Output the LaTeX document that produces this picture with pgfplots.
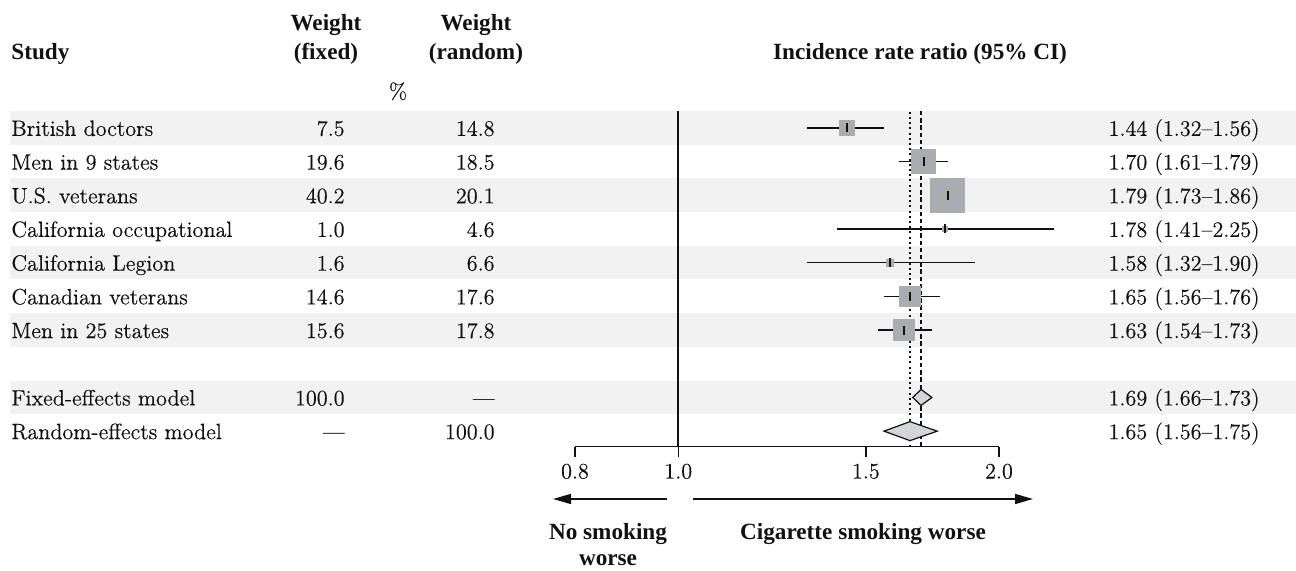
\documentclass[border=0pt]{standalone}
\usepackage{fontspec}
\usepackage{pgfplots}
\usepackage{pgfplotstable}
\pgfplotsset{compat=1.18}
\usetikzlibrary{arrows.meta}
\newfontfamily\hdr{Liberation Serif}
\newfontfamily\bodyfam[FakeBold=0.35]{Latin Modern Roman}
\definecolor{stripe}{HTML}{F2F2F2}
\definecolor{sqgray}{HTML}{ABACB0}
\definecolor{dmgray}{HTML}{D3D5D8}
\definecolor{txt}{HTML}{111111}
\newcommand\bodyf{\bodyfam\fontsize{11.1}{13.3}\selectfont}
\newcommand\hdrf{\hdr\bfseries\fontsize{11.6}{14}\selectfont}

% est lo hi y(row centre, pixel-up units) wfixed
\pgfplotstableread{
est  lo   hi   y      w
1.44 1.32 1.56 443.15 7.5
1.70 1.61 1.79 409.45 19.6
1.79 1.73 1.86 375.75 40.2
1.78 1.41 2.25 342.05 1.0
1.58 1.32 1.90 308.35 1.6
1.65 1.56 1.76 274.65 14.6
1.63 1.54 1.73 240.95 15.6
}\studies

\begin{document}
\begin{tikzpicture}
\useasboundingbox (0,0) rectangle (648pt,285.5pt);
% ---------------- background / text axis (pixel units) ----------------
\begin{axis}[at={(0pt,0pt)}, anchor=south west, width=648pt, height=285.5pt,
  scale only axis, xmin=0, xmax=1296, ymin=0, ymax=571, axis lines=none,
  clip=false, enlargelimits=false]
\addplot[fill=stripe, draw=none] coordinates {(10,426.3) (1296,426.3) (1296,460) (10,460)} -- cycle;
\addplot[fill=stripe, draw=none] coordinates {(10,358.9) (1296,358.9) (1296,392.6) (10,392.6)} -- cycle;
\addplot[fill=stripe, draw=none] coordinates {(10,291.5) (1296,291.5) (1296,325.2) (10,325.2)} -- cycle;
\addplot[fill=stripe, draw=none] coordinates {(10,224.1) (1296,224.1) (1296,257.8) (10,257.8)} -- cycle;
\addplot[fill=stripe, draw=none] coordinates {(10,156.7) (1296,156.7) (1296,190.4) (10,190.4)} -- cycle;

% headers
\node[anchor=base west, font=\hdrf, text=txt, inner sep=0pt] at (axis cs:11,511.5) {Study};
\node[anchor=base, font=\hdrf, text=txt, inner sep=0pt] at (axis cs:326,540) {Weight};
\node[anchor=base, font=\hdrf, text=txt, inner sep=0pt] at (axis cs:326,511.5) {(fixed)};
\node[anchor=base, font=\hdrf, text=txt, inner sep=0pt] at (axis cs:476,540) {Weight};
\node[anchor=base, font=\hdrf, text=txt, inner sep=0pt] at (axis cs:476,511.5) {(random)};
\node[anchor=base, font=\bodyf, text=txt, inner sep=0pt] at (axis cs:398,472) {\%};
\node[anchor=base, font=\hdrf, text=txt, inner sep=0pt] at (axis cs:920,511.5) {Incidence rate ratio (95\% CI)};

% rows
\node[anchor=base west, font=\bodyf, text=txt, inner sep=0pt] at (axis cs:11,435.15) {British doctors};
\node[anchor=base east, font=\bodyf, text=txt, inner sep=0pt] at (axis cs:345,435.15) {7.5};
\node[anchor=base east, font=\bodyf, text=txt, inner sep=0pt] at (axis cs:495,435.15) {14.8};
\node[anchor=base east, font=\bodyf, text=txt, inner sep=0pt] at (axis cs:1260,435.15) {1.44 (1.32–1.56)};

\node[anchor=base west, font=\bodyf, text=txt, inner sep=0pt] at (axis cs:11,401.45) {Men in 9 states};
\node[anchor=base east, font=\bodyf, text=txt, inner sep=0pt] at (axis cs:345,401.45) {19.6};
\node[anchor=base east, font=\bodyf, text=txt, inner sep=0pt] at (axis cs:495,401.45) {18.5};
\node[anchor=base east, font=\bodyf, text=txt, inner sep=0pt] at (axis cs:1260,401.45) {1.70 (1.61–1.79)};

\node[anchor=base west, font=\bodyf, text=txt, inner sep=0pt] at (axis cs:11,367.75) {U.S. veterans};
\node[anchor=base east, font=\bodyf, text=txt, inner sep=0pt] at (axis cs:345,367.75) {40.2};
\node[anchor=base east, font=\bodyf, text=txt, inner sep=0pt] at (axis cs:495,367.75) {20.1};
\node[anchor=base east, font=\bodyf, text=txt, inner sep=0pt] at (axis cs:1260,367.75) {1.79 (1.73–1.86)};

\node[anchor=base west, font=\bodyf, text=txt, inner sep=0pt] at (axis cs:11,334.05) {California occupational};
\node[anchor=base east, font=\bodyf, text=txt, inner sep=0pt] at (axis cs:345,334.05) {1.0};
\node[anchor=base east, font=\bodyf, text=txt, inner sep=0pt] at (axis cs:495,334.05) {4.6};
\node[anchor=base east, font=\bodyf, text=txt, inner sep=0pt] at (axis cs:1260,334.05) {1.78 (1.41–2.25)};

\node[anchor=base west, font=\bodyf, text=txt, inner sep=0pt] at (axis cs:11,300.35) {California Legion};
\node[anchor=base east, font=\bodyf, text=txt, inner sep=0pt] at (axis cs:345,300.35) {1.6};
\node[anchor=base east, font=\bodyf, text=txt, inner sep=0pt] at (axis cs:495,300.35) {6.6};
\node[anchor=base east, font=\bodyf, text=txt, inner sep=0pt] at (axis cs:1260,300.35) {1.58 (1.32–1.90)};

\node[anchor=base west, font=\bodyf, text=txt, inner sep=0pt] at (axis cs:11,266.65) {Canadian veterans};
\node[anchor=base east, font=\bodyf, text=txt, inner sep=0pt] at (axis cs:345,266.65) {14.6};
\node[anchor=base east, font=\bodyf, text=txt, inner sep=0pt] at (axis cs:495,266.65) {17.6};
\node[anchor=base east, font=\bodyf, text=txt, inner sep=0pt] at (axis cs:1260,266.65) {1.65 (1.56–1.76)};

\node[anchor=base west, font=\bodyf, text=txt, inner sep=0pt] at (axis cs:11,232.95) {Men in 25 states};
\node[anchor=base east, font=\bodyf, text=txt, inner sep=0pt] at (axis cs:345,232.95) {15.6};
\node[anchor=base east, font=\bodyf, text=txt, inner sep=0pt] at (axis cs:495,232.95) {17.8};
\node[anchor=base east, font=\bodyf, text=txt, inner sep=0pt] at (axis cs:1260,232.95) {1.63 (1.54–1.73)};

\node[anchor=base west, font=\bodyf, text=txt, inner sep=0pt] at (axis cs:11,165.55) {Fixed-effects model};
\node[anchor=base east, font=\bodyf, text=txt, inner sep=0pt] at (axis cs:345,165.55) {100.0};
\node[anchor=base east, font=\bodyf, text=txt, inner sep=0pt] at (axis cs:495,165.55) {—};
\node[anchor=base east, font=\bodyf, text=txt, inner sep=0pt] at (axis cs:1260,165.55) {1.69 (1.66–1.73)};

\node[anchor=base west, font=\bodyf, text=txt, inner sep=0pt] at (axis cs:11,131.85) {Random-effects model};
\node[anchor=base east, font=\bodyf, text=txt, inner sep=0pt] at (axis cs:345,131.85) {—};
\node[anchor=base east, font=\bodyf, text=txt, inner sep=0pt] at (axis cs:495,131.85) {100.0};
\node[anchor=base east, font=\bodyf, text=txt, inner sep=0pt] at (axis cs:1260,131.85) {1.65 (1.56–1.75)};

% direction arrows and captions
\draw[txt, line width=0.75pt, -{Triangle[length=9pt,width=5pt]}] (axis cs:667,72) -- (axis cs:553,72);
\draw[txt, line width=0.75pt, -{Triangle[length=9pt,width=5pt]}] (axis cs:693,72) -- (axis cs:1033,72);
\node[anchor=base, font=\hdrf, text=txt, inner sep=0pt] at (axis cs:608,31) {No smoking};
\node[anchor=base, font=\hdrf, text=txt, inner sep=0pt] at (axis cs:608,5) {worse};
\node[anchor=base, font=\hdrf, text=txt, inner sep=0pt] at (axis cs:863,31) {Cigarette smoking worse};
\end{axis}

% ---------------- forest axis (log x) ----------------
\begin{axis}[at={(287.5pt,62.15pt)}, anchor=south west, width=212pt, height=167.85pt,
  scale only axis, xmode=log, xmin=0.8, xmax=2.0, ymin=124.3, ymax=460,
  axis x line=bottom, axis y line=none,
  axis line style={-, line width=0.75pt, txt}, x axis line style={-},
  xtick={0.8,1,1.5,2}, xticklabels={0.8,1.0,1.5,2.0},
  tick align=outside, major tick length=5pt, minor tick num=0,
  tick style={line width=0.75pt, txt},
  xticklabel style={font=\bodyf, text=txt},
  clip=false]
% reference line and pooled estimates
\addplot[txt, line width=1pt] coordinates {(1,124.3) (1,460)};
\addplot[txt, line width=0.8pt, dash pattern=on 1pt off 1.6pt] coordinates {(1.65,124.3) (1.65,460)};
\addplot[txt, line width=0.7pt, dash pattern=on 2.2pt off 1.4pt] coordinates {(1.69,124.3) (1.69,460)};
% confidence intervals
\addplot[txt, line width=0.8pt] coordinates {(1.32,443.15) (1.56,443.15)};
\addplot[txt, line width=0.8pt] coordinates {(1.61,409.45) (1.79,409.45)};
\addplot[txt, line width=0.8pt] coordinates {(1.73,375.75) (1.86,375.75)};
\addplot[txt, line width=0.8pt] coordinates {(1.41,342.05) (2.25,342.05)};
\addplot[txt, line width=0.8pt] coordinates {(1.32,308.35) (1.90,308.35)};
\addplot[txt, line width=0.8pt] coordinates {(1.56,274.65) (1.76,274.65)};
\addplot[txt, line width=0.8pt] coordinates {(1.54,240.95) (1.73,240.95)};
% weighted squares
\addplot[scatter, only marks, mark=square*,
  scatter/use mapped color={draw=sqgray, fill=sqgray},
  mark options={draw=sqgray, fill=sqgray, line width=0pt},
  visualization depends on={1.34*sqrt(\thisrow{w}) \as \ms},
  scatter/@pre marker code/.append style={/tikz/mark size=\ms}]
  table[x=est, y=y] {\studies};
% point estimate ticks
\addplot[only marks, mark=|, mark size=2.25pt, txt, mark options={line width=1pt}]
  table[x=est, y=y] {\studies};
% pooled diamonds
\addplot[fill=dmgray, draw=txt, line width=0.6pt] coordinates {(1.66,173.55) (1.69,181.55) (1.73,173.55) (1.69,165.55)} -- cycle;
\addplot[fill=dmgray, draw=txt, line width=0.6pt] coordinates {(1.56,139.85) (1.65,149.35) (1.75,139.85) (1.65,130.35)} -- cycle;
\end{axis}
\end{tikzpicture}
\end{document}
